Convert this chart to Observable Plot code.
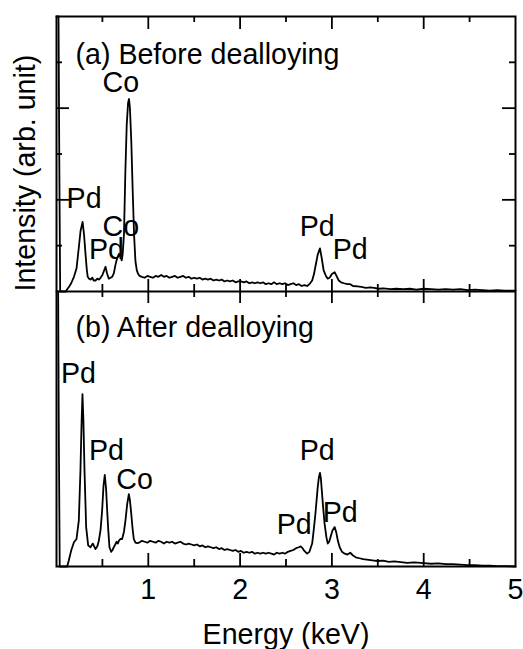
<!DOCTYPE html>
<html>
<head>
<meta charset="utf-8">
<script src="https://cdn.jsdelivr.net/npm/d3@7"></script>
<script src="https://cdn.jsdelivr.net/npm/@observablehq/plot@0.6"></script>
<style>
  html, body { margin: 0; padding: 0; background: #fff; }
</style>
</head>
<body>
<div id="chart"></div>
<script>
// ---- Panel (a): Before dealloying ----
const energyA = [0.000,0.022,0.030,0.040,0.100,0.120,0.135,0.160,0.190,0.218,0.243,0.262,0.284,0.300,0.316,0.330,0.340,0.355,0.370,0.390,0.405,0.425,0.445,0.465,0.480,0.500,0.515,0.534,0.550,0.570,0.590,0.607,0.625,0.640,0.654,0.668,0.680,0.695,0.710,0.720,0.735,0.750,0.765,0.780,0.790,0.800,0.815,0.830,0.845,0.860,0.875,0.890,0.905,
  0.93,0.96,0.99,1.02,1.05,1.08,1.11,1.14,1.17,1.20,1.23,1.26,1.29,1.32,1.35,1.38,1.41,1.44,1.47,1.50,1.53,1.56,1.59,1.62,1.65,1.68,1.71,1.74,1.77,1.80,1.83,1.86,1.89,1.92,1.95,1.98,2.01,2.04,2.07,2.10,2.13,2.16,2.19,2.22,2.25,2.28,2.31,2.34,2.37,2.40,2.43,2.46,2.49,2.52,2.55,2.58,2.61,2.64,2.67,2.70,2.73,2.755,
  2.785,2.805,2.82,2.845,2.87,2.89,2.91,2.935,2.955,2.975,3.00,3.03,3.05,3.075,3.10,3.13,3.17,3.20,3.23,3.28,3.32,3.37,3.42,3.46,3.51,3.56,3.64,3.70,3.78,3.85,3.92,4.00,4.08,4.16,4.24,4.32,4.40,4.48,4.56,4.64,4.72,4.80,4.88,4.95,5.00];
const countsA = [300,300,150,0,0,3,5,9,16,25,48,66,76,62,41,24,16,14,13,15,12,12,14,13,15,18,22,27,20,14,15,16,20,28,34,38,41,39,34,40,62,130,182,206,210,200,163,110,62,33,23,19,17,
  16,15,17,16,15,17,16,18,16,17,15,16,17,15,16,17,15,16,14,15,14,15,13,14,13,14,12,13,12,13,11,12,11,12,10,11,11,10,11,9,10,9,10,9,10,8,9,8,10,8,9,8,9,7,8,9,7,8,6,7,6,8,
  12,19,27,40,47,36,23,17,14,15,19,21,17,12,10,9,8,8,6,5.5,5,4,4.5,4,3,3.5,2.5,3,2.5,3,2,3,2.5,2,2.5,2,2.5,1.5,2,1.5,1,1.5,1,1,1];

// ---- Panel (b): After dealloying ----
const energyB = [0.000,0.018,0.025,0.035,0.116,0.134,0.160,0.190,0.218,0.243,0.261,0.274,0.283,0.293,0.305,0.323,0.345,0.370,0.396,0.425,0.445,0.461,0.480,0.497,0.512,0.526,0.540,0.552,0.565,0.577,0.596,0.610,0.624,0.640,0.655,0.668,0.679,0.695,0.715,0.735,0.751,0.770,0.788,0.800,0.814,0.828,0.842,0.860,0.879,0.90,0.93,
  0.96,0.99,1.02,1.05,1.08,1.11,1.14,1.17,1.20,1.23,1.26,1.29,1.32,1.35,1.38,1.41,1.44,1.47,1.50,1.53,1.56,1.59,1.62,1.65,1.68,1.71,1.74,1.77,1.80,1.83,1.86,1.89,1.92,1.95,1.98,2.01,2.04,2.07,2.10,2.13,2.16,2.19,2.22,2.25,2.28,2.31,2.34,2.37,2.40,2.43,2.46,2.49,2.52,2.55,2.58,2.61,2.64,2.66,2.68,2.70,2.73,2.755,
  2.785,2.80,2.82,2.845,2.858,2.87,2.88,2.89,2.905,2.92,2.94,2.955,2.97,2.985,3.005,3.03,3.048,3.065,3.085,3.11,3.14,3.17,3.20,3.23,3.26,3.30,3.34,3.38,3.42,3.46,3.50,3.56,3.62,3.68,3.75,3.82,3.90,4.00,4.08,4.16,4.24,4.32,4.40,4.48,4.56,4.64,4.72,4.80,4.90,5.00];
const countsB = [300,300,150,0,0,6.5,17.5,26.5,30,50,105,160,188,160,105,43,23,21,25,19,22,28,40,61,88,100,85,61,38,21,16,18,21,24,27,25,28,30,30,38,50,68,79,72,58,42,30,26,25.5,26,28,
  27,26,28,27,26,28,27,25,27,26,27,25,26,27,25,24,25,24,23,24,22,23,21,22,21,20,21,19,20,18,19,18,17,18,16,17,15,16,15,16,14,15,14,15,14,15,14,13,15,14,15,14,16,17,18,20,21,22,20,17,14,16,
  25,38,57,86,97,102,96,83,64,47,32,25,27,32,39,43,37,28,21,16,14,13,15,12,10,9,8,7.5,7,6.5,6,6.5,5,5.5,4.7,4,4.5,3.6,3,3.5,2.5,2.5,2,1.5,1.5,1,1,0.5,0.5,0];

// ---- Axes ----
const majorX = [1, 2, 3, 4];
const minorX = [0.5, 1.5, 2.5, 3.5, 4.5];
const tickLabelsX = [1, 2, 3, 4, 5];
const majorYA = [100, 200];
const minorYA = [50, 150, 250];
const xLabel = "Energy (keV)";
const yLabel = "Intensity (arb. unit)";

// ---- Annotations ----
const titleA = "(a) Before dealloying";
const titleB = "(b) After dealloying";
const peakNamesA = ["Co", "Pd", "Co", "Pd", "Pd", "Pd"];
const peakEnergyA = [0.70, 0.30, 0.70, 0.545, 2.84, 3.20];
const peakLabelYA = [218, 91, 61, 36, 61, 36];
const peakNamesB = ["Pd", "Pd", "Co", "Pd", "Pd", "Pd"];
const peakEnergyB = [0.24, 0.545, 0.85, 2.59, 2.84, 3.09];
const peakLabelYB = [200, 116, 85, 36, 116, 49];

// ---- build tables ----
const PANEL = 300; // panel (a) sits above panel (b)
const seriesA = energyA.map((e, i) => ({e, v: countsA[i] + PANEL}));
const seriesB = energyB.map((e, i) => ({e, v: countsB[i]}));
const labelsA = peakNamesA.map((t, i) => ({t, e: peakEnergyA[i], v: peakLabelYA[i] + PANEL}));
const labelsB = peakNamesB.map((t, i) => ({t, e: peakEnergyB[i], v: peakLabelYB[i]}));

const W = 523, H = 649, mT = 16, mB = 83, mL = 56, mR = 8;
const uy = 600 / (H - mT - mB);   // y data units per pixel
const ux = 5 / (W - mL - mR);     // x data units per pixel
const TS = 1.8;
const font = "'Liberation Sans', Arial, Helvetica, sans-serif";
const FS = 28.6;

const plot = Plot.plot({
  width: W, height: H,
  marginTop: mT, marginBottom: mB, marginLeft: mL, marginRight: mR,
  x: {domain: [0, 5], axis: null},
  y: {domain: [0, 600], axis: null},
  style: {fontFamily: font, background: "#fff", color: "#000"},
  marks: [
    Plot.line(seriesA, {x: "e", y: "v", stroke: "#000", strokeWidth: 1.8}),
    Plot.line(seriesB, {x: "e", y: "v", stroke: "#000", strokeWidth: 1.8}),
    // x ticks: top of (a)
    Plot.ruleX(majorX, {x: d => d, y1: 600, y2: 600 - 13 * uy, strokeWidth: TS}),
    Plot.ruleX(minorX, {x: d => d, y1: 600, y2: 600 - 6 * uy, strokeWidth: TS}),
    // x ticks: bottom of (a)
    Plot.ruleX(majorX, {x: d => d, y1: PANEL, y2: PANEL + 12 * uy, strokeWidth: TS}),
    Plot.ruleX(minorX, {x: d => d, y1: PANEL, y2: PANEL + 7 * uy, strokeWidth: TS}),
    // x ticks: top of (b)
    Plot.ruleX(majorX, {x: d => d, y1: PANEL, y2: PANEL - 12 * uy, strokeWidth: TS}),
    Plot.ruleX(minorX, {x: d => d, y1: PANEL, y2: PANEL - 6 * uy, strokeWidth: TS}),
    // x ticks: bottom of (b)
    Plot.ruleX(majorX, {x: d => d, y1: 0, y2: 13 * uy, strokeWidth: TS}),
    Plot.ruleX(minorX, {x: d => d, y1: 0, y2: 7 * uy, strokeWidth: TS}),
    // y ticks of (a), left and right
    Plot.ruleY(majorYA, {y: d => d + PANEL, x1: 0, x2: 13 * ux, strokeWidth: TS}),
    Plot.ruleY(minorYA, {y: d => d + PANEL, x1: 0, x2: 6 * ux, strokeWidth: TS}),
    Plot.ruleY(majorYA, {y: d => d + PANEL, x1: 5, x2: 5 - 13 * ux, strokeWidth: TS}),
    Plot.ruleY(minorYA, {y: d => d + PANEL, x1: 5, x2: 5 - 6 * ux, strokeWidth: TS}),
    // frame and divider
    Plot.ruleY([PANEL], {stroke: "#000", strokeWidth: 2}),
    Plot.frame({stroke: "#000", strokeWidth: 2}),
    // tick labels and axis titles
    Plot.text(tickLabelsX, {x: d => d, y: 0, dy: 32, text: d => String(d), lineAnchor: "bottom", fontSize: FS, fill: "#000"}),
    Plot.text([xLabel], {frameAnchor: "bottom", dy: 77, lineAnchor: "bottom", fontSize: FS, fill: "#000"}),
    Plot.text([yLabel], {frameAnchor: "left", dx: -31, rotate: -90, fontSize: FS, fill: "#000"}),
    // panel titles
    Plot.text([titleA], {x: 0.207, y: 548.7, textAnchor: "start", lineAnchor: "bottom", fontSize: FS, fill: "#000"}),
    Plot.text([titleB], {x: 0.207, y: 250, textAnchor: "start", lineAnchor: "bottom", fontSize: FS, fill: "#000"}),
    // peak labels
    Plot.text(labelsA, {x: "e", y: "v", text: "t", lineAnchor: "bottom", fontSize: FS, fill: "#000"}),
    Plot.text(labelsB, {x: "e", y: "v", text: "t", lineAnchor: "bottom", fontSize: FS, fill: "#000"})
  ]
});
document.getElementById("chart").appendChild(plot);
</script>
</body>
</html>
